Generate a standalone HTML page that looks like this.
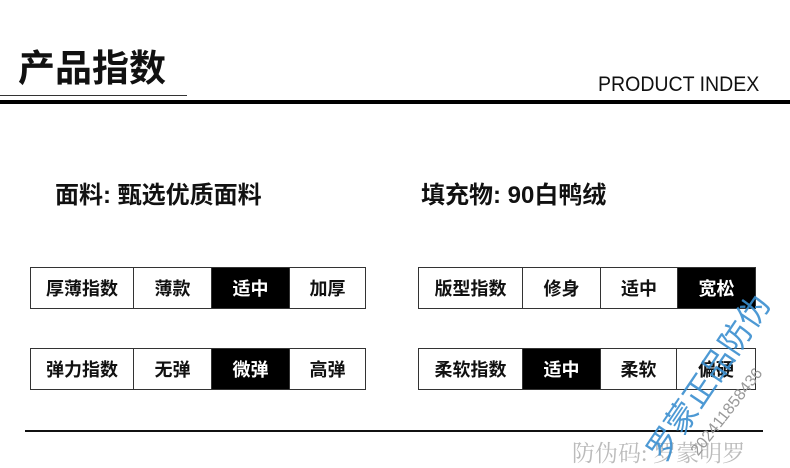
<!DOCTYPE html>
<html><head><meta charset="utf-8"><style>
body{margin:0;width:790px;height:466px;background:#fff;position:relative;overflow:hidden;font-family:"Liberation Sans","Noto Sans CJK SC",sans-serif;color:#111}
.a{position:absolute}
.t{font-weight:bold}
table{position:absolute;border-collapse:collapse}
td{border:1px solid #333;height:40px;text-align:center;font-size:18px;font-weight:bold;padding:0}
td.b{background:#000;color:#fff}
</style></head><body>
<div class="a t" style="left:18px;top:44px;font-size:37px;line-height:50px">产品指数</div>
<div class="a" style="left:0;top:95px;width:187px;height:1px;background:#333"></div>
<div class="a" style="left:0;top:100px;width:790px;height:4px;background:#000"></div>
<div class="a" style="left:598px;top:72px;font-size:21px;line-height:26px;transform:scaleX(0.93);transform-origin:left">PRODUCT INDEX</div>
<div class="a t" style="left:55px;top:180px;font-size:24px;line-height:32px">面料: 甄选优质面料</div>
<div class="a t" style="left:421px;top:180px;font-size:24px;line-height:32px">填充物: 90白鸭绒</div>
<table style="left:30px;top:267px;width:336px"><tr><td style="width:102px">厚薄指数</td><td style="width:77px">薄款</td><td class="b" style="width:77px">适中</td><td>加厚</td></tr></table>
<table style="left:30px;top:348px;width:336px"><tr><td style="width:102px">弹力指数</td><td style="width:77px">无弹</td><td class="b" style="width:77px">微弹</td><td>高弹</td></tr></table>
<table style="left:418px;top:267px;width:338px"><tr><td style="width:103px">版型指数</td><td style="width:77px">修身</td><td style="width:76px">适中</td><td class="b">宽松</td></tr></table>
<table style="left:418px;top:348px;width:338px"><tr><td style="width:103px">柔软指数</td><td class="b" style="width:77px">适中</td><td style="width:75px">柔软</td><td>偏硬</td></tr></table>
<div class="a" style="left:25px;top:430px;width:738px;height:2px;background:#111"></div>
<div class="a" style="left:572px;top:440px;font-size:23px;line-height:28px;color:#bbb;font-family:'Liberation Serif','Noto Serif CJK SC',serif">防伪码: 罗蒙明罗</div>
<div class="a" style="left:655px;top:440px;font-size:32px;line-height:34px;color:#3a8fd0;transform:rotate(-56deg);transform-origin:left center;white-space:nowrap;opacity:.9">罗蒙正品防伪</div>
<div class="a" style="left:695px;top:445px;font-size:16px;line-height:18px;color:#999;transform:rotate(-52deg);transform-origin:left center;white-space:nowrap">202411858436</div>
</body></html>
